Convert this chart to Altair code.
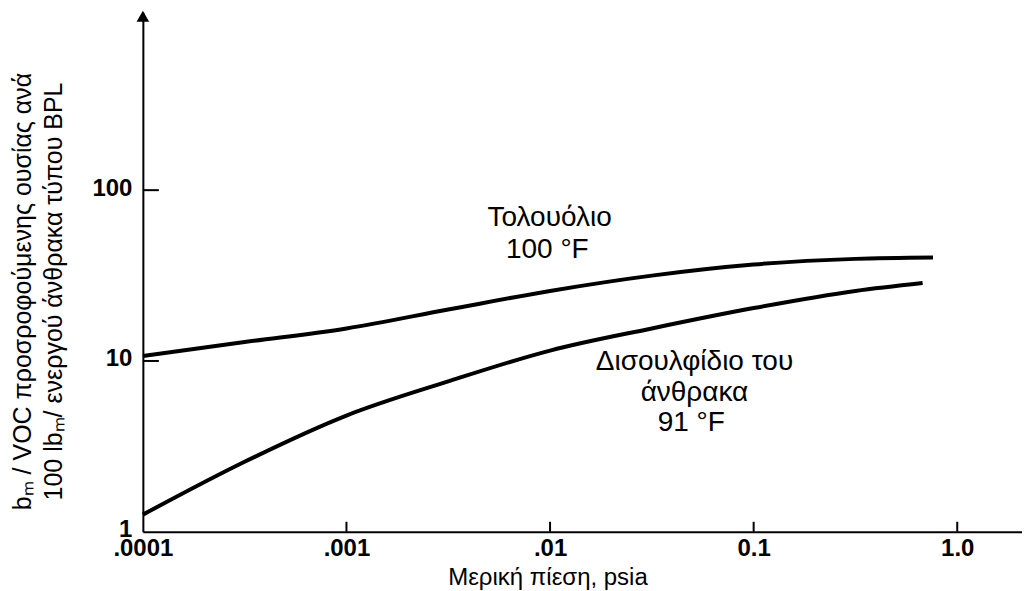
import altair as alt
import pandas as pd

# Toluene, 100 F
tol_x = [0.0001, 0.000316, 0.001, 0.00316, 0.01, 0.0316, 0.1, 0.316, 0.76]
tol_y = [10.7, 12.9, 15.5, 20.0, 25.7, 31.6, 36.7, 39.6, 40.3]
# Carbon disulfide, 91 F
cs2_x = [0.0001, 0.000316, 0.001, 0.00316, 0.01, 0.0316, 0.1, 0.316, 0.676]
cs2_y = [1.26, 2.57, 4.79, 7.59, 11.5, 15.5, 20.4, 25.7, 28.6]

x_ticks = [0.0001, 0.001, 0.01, 0.1, 1.0]
x_tick_labels = [".0001", ".001", ".01", "0.1", "1.0"]
y_ticks = [1, 10, 100]
y_tick_labels = ["1", "10", "100"]

ann_text = ["Τολουόλιο", "100 °F", "Δισουλφίδιο του", "άνθρακα", "91 °F"]
ann_x = [0.00995, 0.0097, 0.0512, 0.0512, 0.0494]
ann_y = [68.6, 44.6, 9.86, 6.5, 4.34]

X_DOMAIN = [0.0001, 2.08]
Y_DOMAIN = [1, 1100]

W, H = 880, 520
FONT = "Liberation Sans"

df = pd.concat([
    pd.DataFrame({"x": tol_x, "y": tol_y, "s": "tol"}),
    pd.DataFrame({"x": cs2_x, "y": cs2_y, "s": "cs2"}),
])

label_map = "{" + ",".join(f"'{i}':'{l}'" for i, l in enumerate(x_tick_labels)) + "}"
xs = alt.Scale(type="log", domain=X_DOMAIN, nice=False)
ys = alt.Scale(type="log", domain=Y_DOMAIN, nice=False)

x_axis = alt.Axis(
    values=x_ticks,
    labelExpr=f"{label_map}[''+round(log(datum.value)/log(10)+4)]",
    ticks=False, grid=False, domainColor="black", domainWidth=2,
    labelFont=FONT, labelFontSize=24, labelFontWeight="bold", labelColor="black",
    labelPadding=5, labelFlush=False,
    title="Μερική πίεση, psia", titleFont=FONT, titleFontSize=24, titleFontWeight="normal",
    titleColor="black", titleX=405, titleY=46, titleAlign="center", titleBaseline="middle",
)
y_axis = alt.Axis(
    values=y_ticks, format="d",
    ticks=False, grid=False, domainColor="black", domainWidth=2,
    labelFont=FONT, labelFontSize=24, labelFontWeight="bold", labelColor="black",
    labelPadding=11, labelOffset=-2,
    title=["bₘ / VOC προσροφούμενης ουσίας ανά", "100 lbₘ/ ενεργού άνθρακα τύπου BPL"],
    titleFont=FONT, titleFontSize=25, titleFontWeight="normal", titleColor="black",
    titleAngle=270, titleX=-132, titleY=279, titleAlign="center", titleBaseline="top",
    titleLineHeight=31,
)

lines = alt.Chart(df).mark_line(color="black", strokeWidth=4, interpolate="monotone").encode(
    x=alt.X("x:Q", scale=xs, axis=x_axis),
    y=alt.Y("y:Q", scale=ys, axis=y_axis),
    detail="s:N",
)

xt = alt.Chart(pd.DataFrame({"x": x_ticks[1:]})).mark_rule(color="black", strokeWidth=2).encode(
    x=alt.X("x:Q", scale=xs), y=alt.value(H), y2=alt.value(H - 10)
)
yt = alt.Chart(pd.DataFrame({"y": y_ticks[1:]})).mark_rule(color="black", strokeWidth=2).encode(
    y=alt.Y("y:Q", scale=ys), x=alt.value(0), x2=alt.value(16)
)
arrow = alt.Chart(pd.DataFrame({"x": [X_DOMAIN[0]], "y": [Y_DOMAIN[1]]})).mark_point(
    shape="triangle-up", filled=True, color="black", size=160, opacity=1, yOffset=4
).encode(x=alt.X("x:Q", scale=xs), y=alt.Y("y:Q", scale=ys))

ann = alt.Chart(pd.DataFrame({"t": ann_text, "x": ann_x, "y": ann_y})).mark_text(
    font=FONT, fontSize=28, color="black", align="center", baseline="middle"
).encode(x=alt.X("x:Q", scale=xs), y=alt.Y("y:Q", scale=ys), text="t:N")

chart = alt.layer(lines, xt, yt, arrow, ann).properties(
    width=W, height=H,
    autosize=alt.AutoSizeParams(type="none"),
    padding={"left": 135, "top": 4, "right": 0, "bottom": 59},
).configure(background="white").configure_view(stroke=None)

chart.save("out.html", embed_options={"renderer": "svg", "actions": False})
